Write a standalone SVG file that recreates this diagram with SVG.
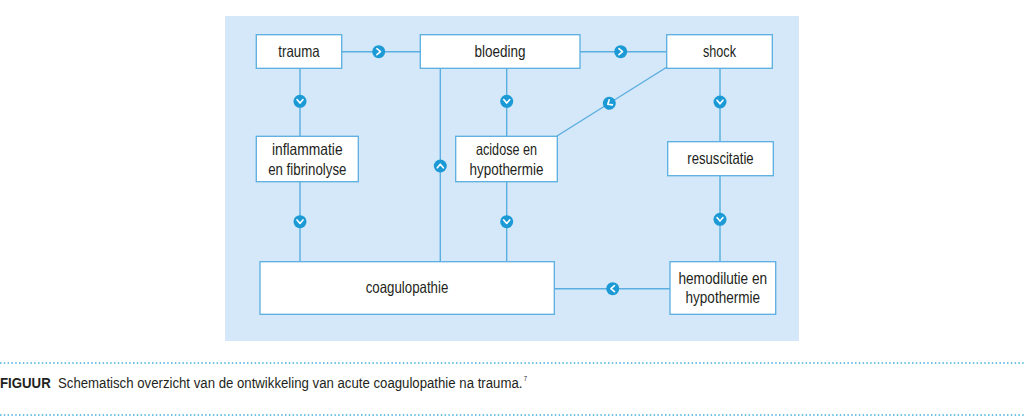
<svg xmlns="http://www.w3.org/2000/svg" xmlns:xlink="http://www.w3.org/1999/xlink" width="1024" height="420" viewBox="0 0 1024 420">
<style>
.bg{fill:#d4e8f9}
.box{fill:#fff;stroke:#5aaee0;stroke-width:1.3}
.ln{stroke:#5aaee0;stroke-width:1.4;fill:none}
.lbl{font-family:"Liberation Sans",Arial,sans-serif;font-size:16.5px;fill:#231f20;text-anchor:middle}
.cap{font-family:"Liberation Sans",Arial,sans-serif;font-size:15.5px;fill:#231f20}
.sup{font-size:7px}
.dot{stroke:#3fb0dc;stroke-width:1.6;stroke-dasharray:1.5 2.3;fill:none}
</style>
<defs>
<g id="chev">
<circle r="6.5" fill="#1b9ad6"/>
<polyline points="-1.8,-3 1.8,0 -1.8,3" fill="none" stroke="#fff" stroke-width="1.6" stroke-linecap="round" stroke-linejoin="round"/>
</g>
</defs>
<rect class="bg" x="225" y="16" width="574" height="325"/>
<g id="connectors">
<line class="ln" x1="342" y1="51.7" x2="420" y2="51.7"/>
<line class="ln" x1="580" y1="51.7" x2="667" y2="51.7"/>
<line class="ln" x1="300" y1="68" x2="300" y2="136"/>
<line class="ln" x1="300" y1="182" x2="300" y2="262"/>
<line class="ln" x1="440.3" y1="68" x2="440.3" y2="262"/>
<line class="ln" x1="506.7" y1="68" x2="506.7" y2="136"/>
<line class="ln" x1="506.7" y1="182" x2="506.7" y2="262"/>
<line class="ln" x1="667" y1="67" x2="557" y2="136"/>
<line class="ln" x1="720" y1="68" x2="720" y2="142"/>
<line class="ln" x1="720" y1="176" x2="720" y2="262"/>
<line class="ln" x1="554" y1="288.7" x2="670" y2="288.7"/>
<use xlink:href="#chev" transform="translate(378.7,51.7)"/>
<use xlink:href="#chev" transform="translate(620.7,51.7)"/>
<use xlink:href="#chev" transform="translate(300,101.3) rotate(90)"/>
<use xlink:href="#chev" transform="translate(300,221.7) rotate(90)"/>
<use xlink:href="#chev" transform="translate(440.3,166) rotate(-90)"/>
<use xlink:href="#chev" transform="translate(506.7,101.3) rotate(90)"/>
<use xlink:href="#chev" transform="translate(506.7,221.7) rotate(90)"/>
<use xlink:href="#chev" transform="translate(609.3,103.3) rotate(148)"/>
<use xlink:href="#chev" transform="translate(720,102) rotate(90)"/>
<use xlink:href="#chev" transform="translate(720,219.3) rotate(90)"/>
<use xlink:href="#chev" transform="translate(612.7,288.7) rotate(180)"/>
</g>
<g id="trauma"><rect class="box" x="256.3" y="34.7" width="85.4" height="33.6"/><text class="lbl" x="299" y="57" textLength="41.3" lengthAdjust="spacingAndGlyphs">trauma</text></g>
<g id="bloeding"><rect class="box" x="420.3" y="34.7" width="159.7" height="33.6"/><text class="lbl" x="500" y="57" textLength="51" lengthAdjust="spacingAndGlyphs">bloeding</text></g>
<g id="shock"><rect class="box" x="666.7" y="34.7" width="105.6" height="33.6"/><text class="lbl" x="719.5" y="57" textLength="33" lengthAdjust="spacingAndGlyphs">shock</text></g>
<g id="inflammatie"><rect class="box" x="256.3" y="136.3" width="102" height="45.4"/><text class="lbl" x="307.3" y="155" textLength="70.7" lengthAdjust="spacingAndGlyphs">inflammatie</text><text class="lbl" x="307.3" y="175" textLength="78.3" lengthAdjust="spacingAndGlyphs">en fibrinolyse</text></g>
<g id="acidose"><rect class="box" x="455.7" y="136.3" width="101.6" height="45.4"/><text class="lbl" x="506.5" y="155" textLength="61" lengthAdjust="spacingAndGlyphs">acidose en</text><text class="lbl" x="506.5" y="175" textLength="74" lengthAdjust="spacingAndGlyphs">hypothermie</text></g>
<g id="resuscitatie"><rect class="box" x="667.7" y="141.7" width="105.6" height="34"/><text class="lbl" x="720.5" y="164" textLength="66.3" lengthAdjust="spacingAndGlyphs">resuscitatie</text></g>
<g id="coagulopathie"><rect class="box" x="260" y="261.7" width="294.3" height="52.6"/><text class="lbl" x="407" y="293" textLength="82.7" lengthAdjust="spacingAndGlyphs">coagulopathie</text></g>
<g id="hemodilutie"><rect class="box" x="670" y="261.7" width="105.7" height="52.6"/><text class="lbl" x="722.8" y="284" textLength="88.7" lengthAdjust="spacingAndGlyphs">hemodilutie en</text><text class="lbl" x="722.8" y="303" textLength="74.5" lengthAdjust="spacingAndGlyphs">hypothermie</text></g>
<line class="dot" x1="0" y1="363" x2="1024" y2="363"/>
<line class="dot" x1="0" y1="415" x2="1024" y2="415"/>
<text class="cap" x="0" y="388" font-weight="bold" textLength="50.7" lengthAdjust="spacingAndGlyphs">FIGUUR</text>
<text class="cap" x="58" y="388" textLength="469" lengthAdjust="spacingAndGlyphs">Schematisch overzicht van de ontwikkeling van acute coagulopathie na trauma.<tspan class="sup" dx="1.5" dy="-7">7</tspan></text>
</svg>
